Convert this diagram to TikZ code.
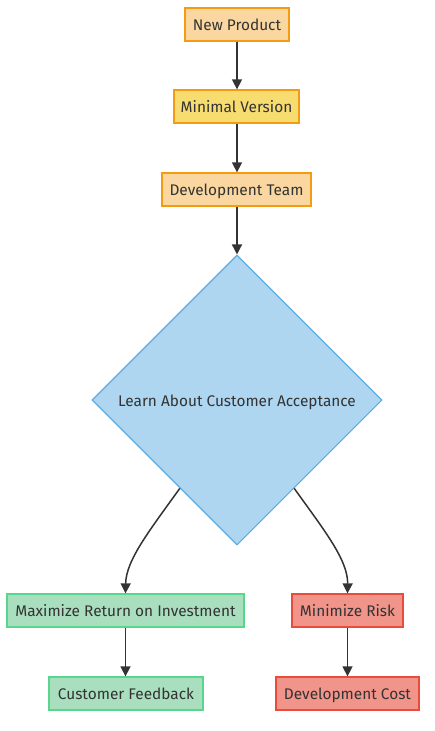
\documentclass[tikz,border=0pt]{standalone}
\usepackage{fontspec}
\setmainfont{Fira Sans}
\usetikzlibrary{shapes.geometric,arrows.meta,calc}
\definecolor{txt}{HTML}{333333}
\definecolor{peachF}{HTML}{FAD7A0}
\definecolor{orangeS}{HTML}{F39C12}
\definecolor{yellowF}{HTML}{F7DC6F}
\definecolor{blueF}{HTML}{AED6F1}
\definecolor{blueS}{HTML}{5DADE2}
\definecolor{greenF}{HTML}{A9DFBF}
\definecolor{greenS}{HTML}{58D68D}
\definecolor{redF}{HTML}{F1948A}
\definecolor{redS}{HTML}{E74C3C}
\tikzset{
  lbl/.style={text=txt, font=\fontsize{15.4pt}{17pt}\selectfont, text height=12.5pt, text depth=0.5pt},
  box/.style={rectangle, draw, line width=1.3pt, minimum height=33pt, inner sep=0pt, lbl},
  peach/.style={box, fill=peachF, draw=orangeS},
  yellowbox/.style={box, fill=yellowF, draw=orangeS},
  greenbox/.style={box, fill=greenF, draw=greenS},
  redbox/.style={box, fill=redF, draw=redS},
  decision/.style={diamond, draw=blueS, fill=blueF, line width=1.1pt, minimum width=290pt,
    minimum height=290pt, inner sep=0pt, aspect=1, lbl},
  conn/.style={draw=txt, line width=1.5pt, -{Triangle[length=10pt,width=10pt]}},
}
\begin{document}
\begin{tikzpicture}[x=1pt,y=-1pt]
\useasboundingbox (0,0) rectangle (435,731);
\node[peach, minimum width=104pt] (np) at (237,24.5) {New Product};
\node[yellowbox, minimum width=125pt] (mv) at (236.5,106.5) {Minimal Version};
\node[peach, minimum width=149pt] (dt) at (236.5,189.5) {Development Team};
\node[decision] (d) at (237,400) {Learn About Customer Acceptance};
\node[greenbox, minimum width=237pt] (mr) at (125.5,610.5) {Maximize Return on Investment};
\node[greenbox, minimum width=154pt] (cf) at (126,693.5) {Customer Feedback};
\node[redbox, minimum width=111pt] (mk) at (347.5,610.5) {Minimize Risk};
\node[redbox, minimum width=143pt] (dc) at (347.5,693.5) {Development Cost};
\coordinate (dl) at ($(d.west)!0.607!(d.south)$);
\coordinate (dr) at ($(d.east)!0.607!(d.south)$);
\draw[conn] (np.south) -- (np.south |- mv.north);
\draw[conn] (np.south |- mv.south) -- (np.south |- dt.north);
\draw[conn] (np.south |- dt.south) -- (d.north);
\draw[conn] (dl) .. controls (150,530) and (126,560) .. (mr.north);
\draw[conn] (dr) .. controls (324,530) and (348,560) .. (mk.north);
\draw[conn] (mr.south) -- (mr.south |- cf.north);
\draw[conn] (mk) -- (dc);
\end{tikzpicture}
\end{document}
